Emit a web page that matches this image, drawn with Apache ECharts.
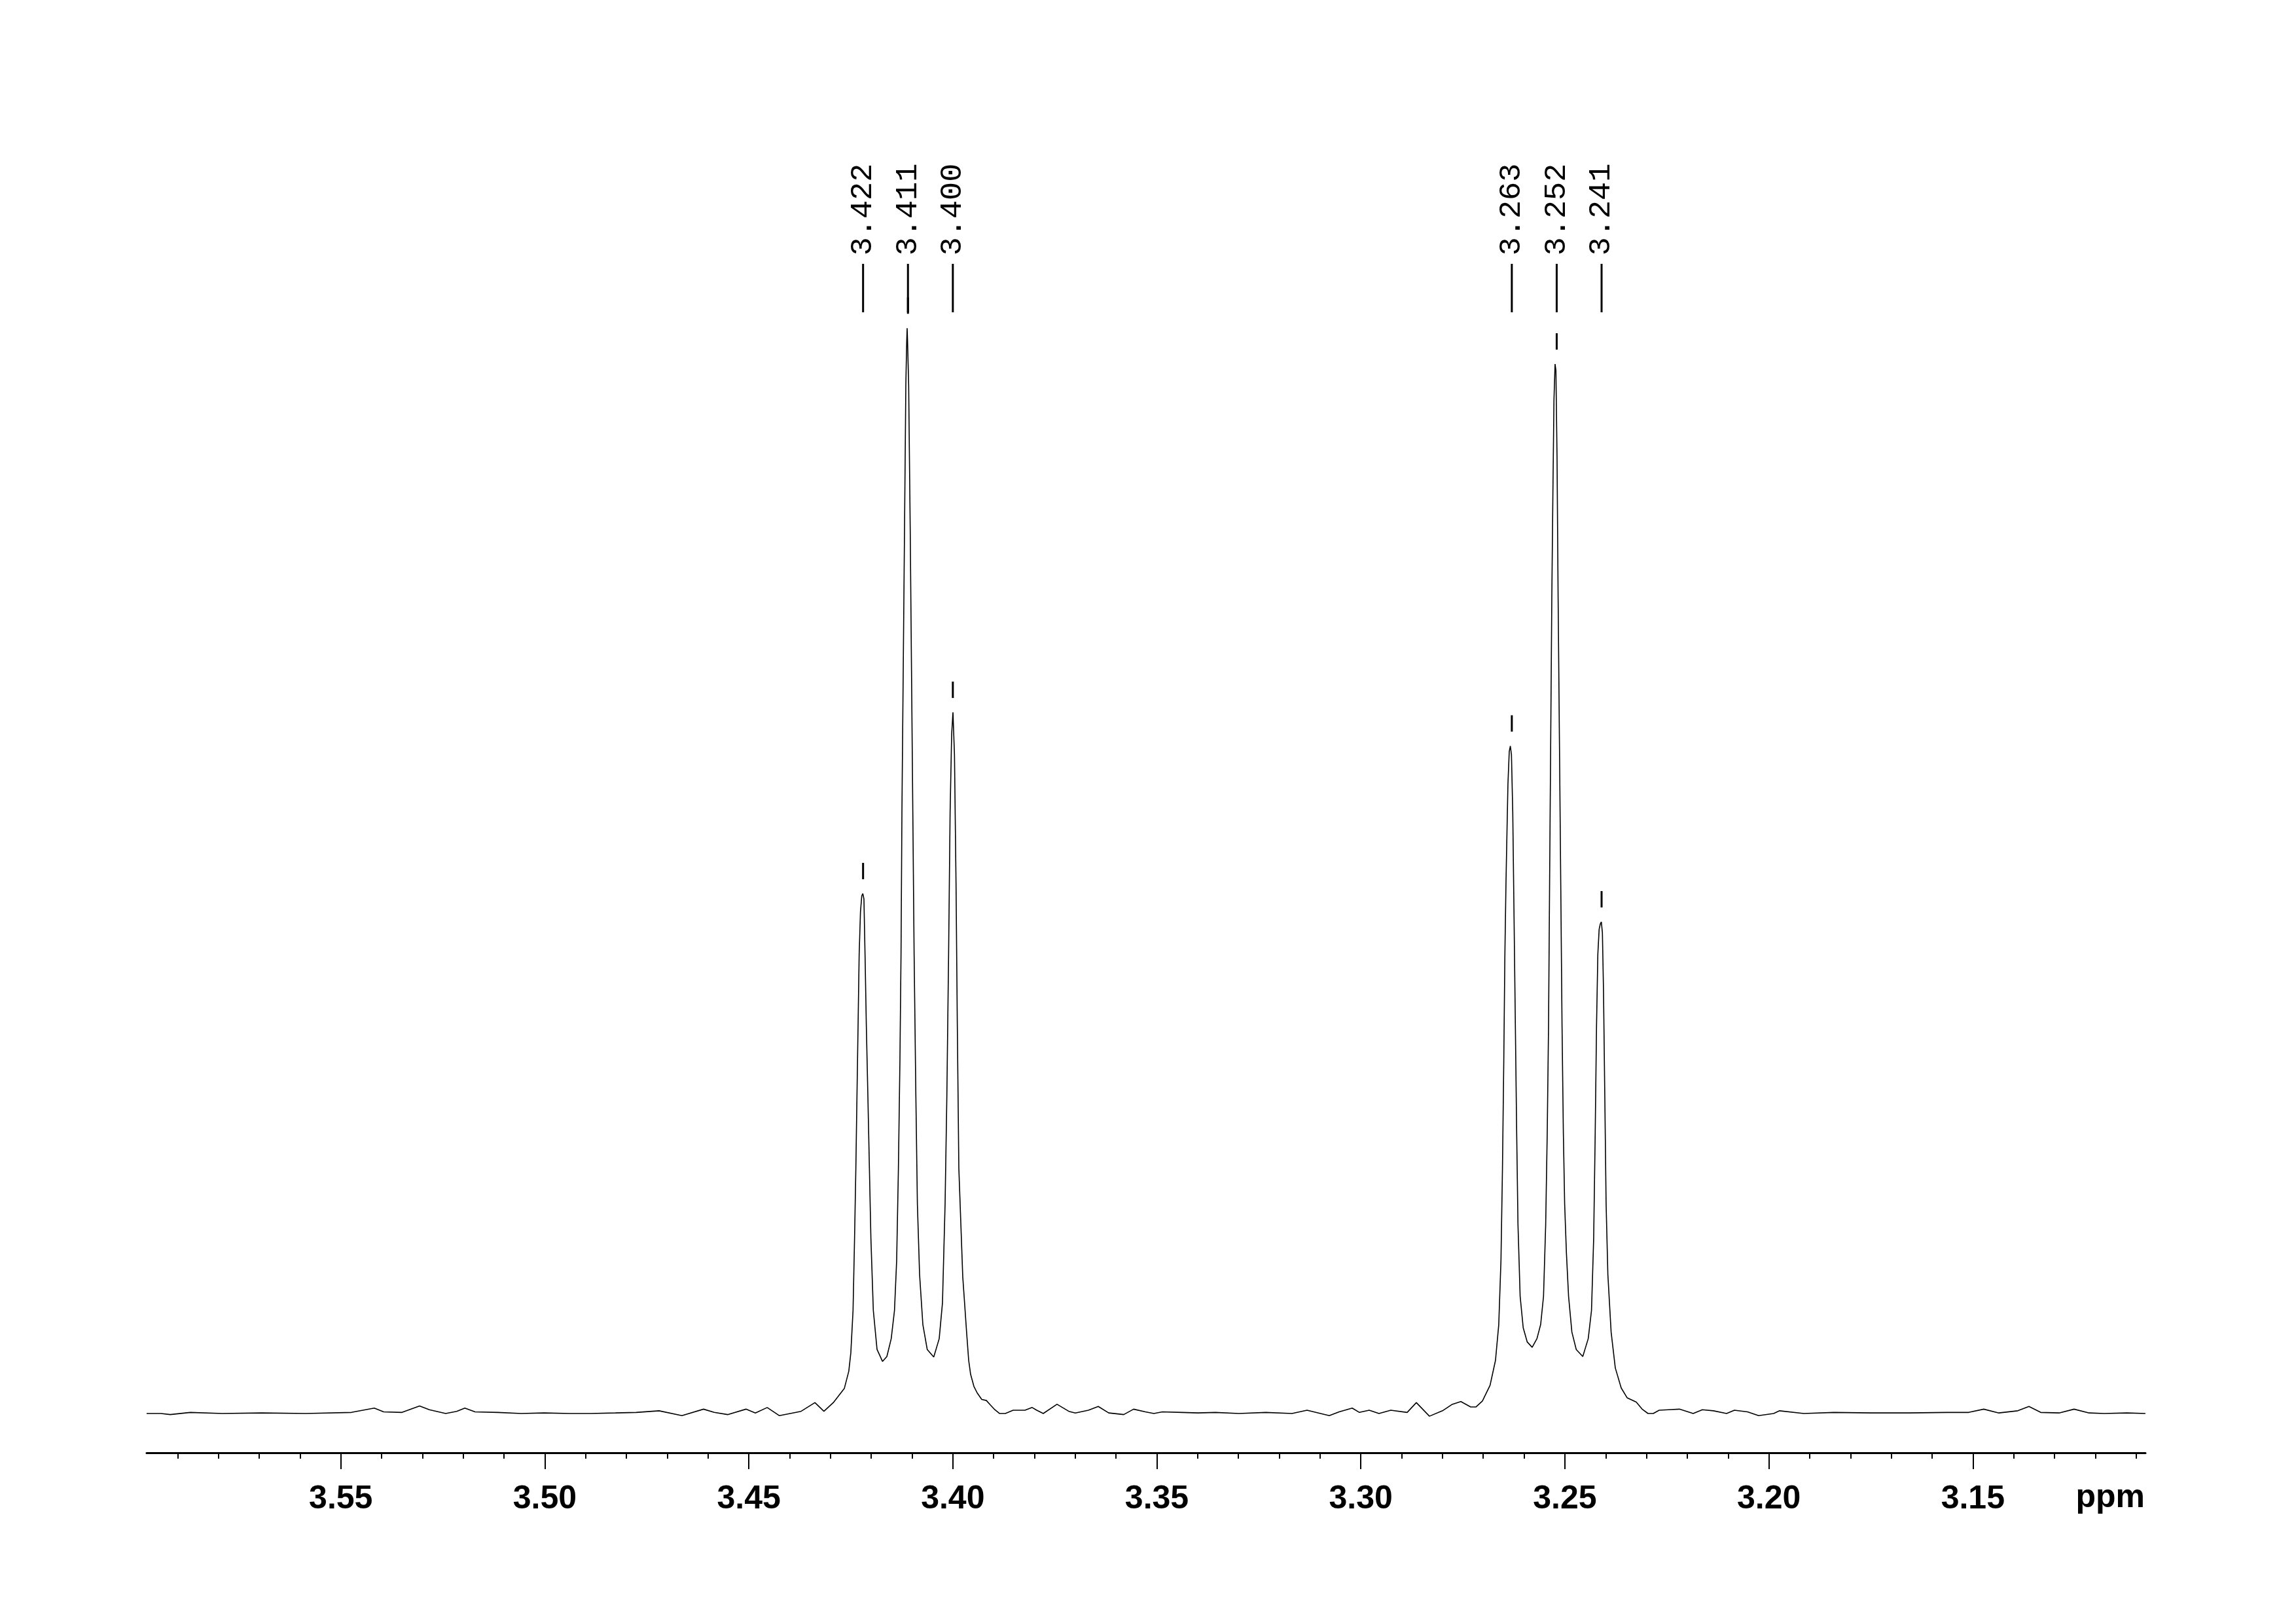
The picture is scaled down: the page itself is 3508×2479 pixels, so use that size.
<!DOCTYPE html>
<html>
<head>
<meta charset="utf-8">
<script src="https://cdn.jsdelivr.net/npm/echarts@6/dist/echarts.min.js"></script>
<style>
  html, body { margin: 0; padding: 0; background: #fff; }
  #chart { width: 3508px; height: 2479px; }
</style>
</head>
<body>
<div id="chart"></div>
<script>
// spectrum trace (ppm, relative intensity, tallest peak = 100)
const specPpm = [
  3.5976, 3.5941, 3.5918, 3.5869, 3.5790, 3.5694, 3.5586, 3.5474, 3.5418, 3.5395,
  3.5350, 3.5307, 3.5283, 3.5243, 3.5216, 3.5196, 3.5171, 3.5115, 3.5058, 3.5002,
  3.4940, 3.4888, 3.4827, 3.4776, 3.4720, 3.4664, 3.4611, 3.4585, 3.4552, 3.4507,
  3.4484, 3.4455, 3.4425, 3.4372, 3.4338, 3.4316, 3.4293, 3.4266, 3.4255, 3.4250,
  3.42446, 3.42409, 3.42377, 3.42350, 3.42323, 3.42296, 3.42264, 3.42232, 3.42206, 3.42179,
  3.42152, 3.42120, 3.42082, 3.42045, 3.42008, 3.41949, 3.41858, 3.41724, 3.41617, 3.41510,
  3.41430, 3.41377, 3.41334, 3.41297, 3.41270, 3.41248, 3.41216, 3.41184, 3.41152, 3.41131,
  3.41120, 3.41109, 3.41083, 3.41045, 3.41013, 3.40981, 3.40949, 3.40906, 3.40869, 3.40815,
  3.40735, 3.40628, 3.40468, 3.40334, 3.40254, 3.40190, 3.40147, 3.40104, 3.40067, 3.40029,
  3.39997, 3.39960, 3.39922, 3.39890, 3.39853, 3.39757, 3.39720, 3.39665, 3.39612, 3.39564,
  3.39484, 3.39404, 3.39292, 3.39179, 3.39083, 3.38971, 3.38858, 3.38714, 3.38522, 3.38233,
  3.38056, 3.37944, 3.37784, 3.37447, 3.37158, 3.36998, 3.36677, 3.36436, 3.36180, 3.35811,
  3.35570, 3.35281, 3.35073, 3.34864, 3.34383, 3.33998, 3.33565, 3.32987, 3.32330, 3.31688,
  3.31319, 3.30774, 3.30533, 3.30212, 3.30036, 3.29795, 3.29555, 3.29266, 3.28865, 3.28640,
  3.28319, 3.27999, 3.27758, 3.27549, 3.27309, 3.27181, 3.27020, 3.26833, 3.26700, 3.26620,
  3.26566, 3.26529, 3.26497, 3.26470, 3.26443, 3.26416, 3.26395, 3.26363, 3.26336, 3.26309,
  3.26277, 3.26245, 3.26213, 3.26181, 3.26149, 3.26096, 3.26021, 3.25924, 3.25801, 3.25684,
  3.25593, 3.25523, 3.25470, 3.25432, 3.25400, 3.25374, 3.25347, 3.25320, 3.25293, 3.25267,
  3.25240, 3.25219, 3.25192, 3.25165, 3.25133, 3.25101, 3.25069, 3.25037, 3.25005, 3.24962,
  3.24909, 3.24828, 3.24721, 3.24561, 3.24427, 3.24347, 3.24294, 3.24256, 3.24224, 3.24192,
  3.24160, 3.24133, 3.24106, 3.24080, 3.24053, 3.24021, 3.23989, 3.23946, 3.23866, 3.23764,
  3.23619, 3.23475, 3.23251, 3.23106, 3.22962, 3.22833, 3.22689, 3.22465, 3.22192, 3.21855,
  3.21630, 3.21358, 3.21037, 3.20844, 3.20523, 3.20251, 3.19882, 3.19738, 3.19144, 3.18406,
  3.17492, 3.16561, 3.15647, 3.15102, 3.14733, 3.14364, 3.13899, 3.13626, 3.13337, 3.12888,
  3.12519, 3.12150, 3.11781, 3.11220, 3.10771
];
const specInt = [
  0, 0, -0.1, 0.1, 0, 0.05, 0, 0.1, 0.5, 0.15,
  0.1, 0.7, 0.35, 0, 0.2, 0.5, 0.15, 0.1, 0, 0.05,
  0, 0, 0.05, 0.1, 0.25, -0.2, 0.4, 0.1, -0.1, 0.4,
  0.05, 0.55, -0.2, 0.2, 1.0, 0.2, 1.0, 2.3, 3.9, 5.6,
  9.5, 16.1, 22.6, 29.2, 35.7, 42.3, 46.2, 47.7, 47.9, 47.4,
  42.3, 35.7, 29.2, 22.6, 16.1, 9.5, 5.9, 4.8, 5.25, 6.9,
  9.5, 14.1, 22.6, 32.5, 42.3, 55.4, 68.5, 81.6, 94.8, 98.7,
  100, 98.7, 94.8, 81.6, 68.5, 55.4, 42.3, 29.2, 19.3, 12.8,
  8.2, 5.9, 5.2, 6.9, 10.2, 19.3, 29.2, 42.3, 55.4, 62.6,
  64.6, 60.7, 48.9, 35.7, 22.6, 12.6, 10.6, 7.6, 4.9, 3.6,
  2.5, 1.9, 1.3, 1.2, 0.8, 0.35, 0, 0, 0.3, 0.3,
  0.55, 0.3, 0, 0.85, 0.2, 0.05, 0.3, 0.65, 0.05, -0.1,
  0.4, 0.15, 0, 0.15, 0.1, 0.05, 0.1, 0, 0.1, 0,
  0.3, -0.2, 0.15, 0.5, 0.1, 0.3, 0, 0.3, 0.1, 1.0,
  -0.25, 0.25, 0.85, 1.1, 0.6, 0.6, 1.15, 2.6, 4.9, 8.2,
  14.1, 22.6, 32.5, 42.3, 48.9, 54.1, 58.0, 61.0, 61.5, 60.7,
  55.4, 45.6, 35.7, 25.9, 17.4, 10.8, 7.9, 6.6, 6.1, 6.9,
  8.2, 10.8, 17.4, 25.9, 35.7, 48.9, 62.0, 75.1, 84.9, 93.4,
  96.7, 96.1, 88.2, 75.1, 62.0, 48.9, 35.7, 25.9, 19.3, 14.8,
  10.8, 7.5, 5.9, 5.25, 6.9, 9.5, 16.1, 25.9, 35.7, 42.3,
  44.6, 45.1, 45.3, 44.3, 39.0, 29.2, 19.3, 12.8, 7.5, 4.2,
  2.35, 1.45, 1.05, 0.4, 0, 0, 0.3, 0.35, 0.4, 0,
  0.35, 0.25, 0, 0.3, 0.15, -0.2, 0, 0.25, 0, 0.1,
  0.05, 0.05, 0.1, 0.1, 0.4, 0.05, 0.25, 0.65, 0.1, 0.05,
  0.4, 0.05, 0, 0.05, 0
];

// picked peaks
const peakPpm = [3.422, 3.411, 3.400, 3.263, 3.252, 3.241];
const peakInt = [47.9, 100, 64.6, 61.5, 96.7, 45.3];
const peakLabels = ['3.422', '3.411', '3.400', '3.263', '3.252', '3.241'];

// axis
const xMin = 3.1077;
const xMax = 3.5976;
const majorTicks = [3.55, 3.50, 3.45, 3.40, 3.35, 3.30, 3.25, 3.20, 3.15];
const minorTicks = [
  3.59, 3.58, 3.57, 3.56, 3.55, 3.54, 3.53, 3.52, 3.51, 3.50,
  3.49, 3.48, 3.47, 3.46, 3.45, 3.44, 3.43, 3.42, 3.41, 3.40,
  3.39, 3.38, 3.37, 3.36, 3.35, 3.34, 3.33, 3.32, 3.31, 3.30,
  3.29, 3.28, 3.27, 3.26, 3.25, 3.24, 3.23, 3.22, 3.21, 3.20,
  3.19, 3.18, 3.17, 3.16, 3.15, 3.14, 3.13, 3.12, 3.11
];

const chart = echarts.init(document.getElementById('chart'), null, { renderer: 'canvas' });

const spectrum = specPpm.map((p, i) => [p, specInt[i]]);
const peaks = peakPpm.map((p, i) => [p, peakInt[i], peakLabels[i]]);

chart.setOption({
  backgroundColor: '#ffffff',
  animation: false,
  title: {
    text: 'ppm',
    right: 231,
    top: 2263,
    padding: 0,
    textStyle: {
      fontFamily: 'Liberation Sans',
      fontWeight: 'bold',
      fontSize: 50,
      color: '#000'
    }
  },
  grid: {
    left: 224,
    right: 230,
    top: 493,
    bottom: 260
  },
  xAxis: [{
    type: 'value',
    min: xMin,
    max: xMax,
    inverse: true,
    position: 'bottom',
    axisLine: { show: true, onZero: false, lineStyle: { color: '#000', width: 3 } },
    axisTick: {
      show: true,
      customValues: majorTicks,
      length: 25,
      lineStyle: { color: '#000', width: 2 }
    },
    axisLabel: {
      show: true,
      customValues: majorTicks,
      margin: 46,
      fontFamily: 'Liberation Sans',
      fontWeight: 'bold',
      fontSize: 50,
      color: '#000',
      formatter: v => v.toFixed(2)
    },
    splitLine: { show: false }
  }, {
    type: 'value',
    min: xMin,
    max: xMax,
    inverse: true,
    position: 'bottom',
    axisLine: { show: false, onZero: false },
    axisTick: {
      show: true,
      customValues: minorTicks,
      length: 9,
      lineStyle: { color: '#000', width: 2 }
    },
    axisLabel: { show: false },
    splitLine: { show: false }
  }],
  yAxis: {
    type: 'value',
    min: -3.62,
    max: 100.5,
    show: false,
    splitLine: { show: false }
  },
  series: [{
    type: 'line',
    xAxisIndex: 0,
    data: spectrum,
    showSymbol: false,
    smooth: false,
    lineStyle: { color: '#000', width: 1.6 }
  }, {
    type: 'custom',
    xAxisIndex: 0,
    data: peaks,
    clip: false,
    renderItem: function (params, api) {
      const tip = api.coord([api.value(0), api.value(1)]);
      const x = tip[0];
      return {
        type: 'group',
        children: [{
          type: 'line',
          shape: { x1: x, y1: tip[1] - 47, x2: x, y2: tip[1] - 22 },
          style: { stroke: '#000', lineWidth: 3 }
        }, {
          type: 'line',
          shape: { x1: x, y1: 403, x2: x, y2: 477 },
          style: { stroke: '#000', lineWidth: 3 }
        }, {
          type: 'text',
          x: x,
          y: 320,
          rotation: Math.PI / 2,
          style: {
            text: peakLabels[params.dataIndex],
            fontFamily: 'Liberation Mono',
            fontSize: 47,
            fill: '#000',
            align: 'center',
            verticalAlign: 'middle'
          }
        }]
      };
    }
  }]
});
</script>
</body>
</html>
